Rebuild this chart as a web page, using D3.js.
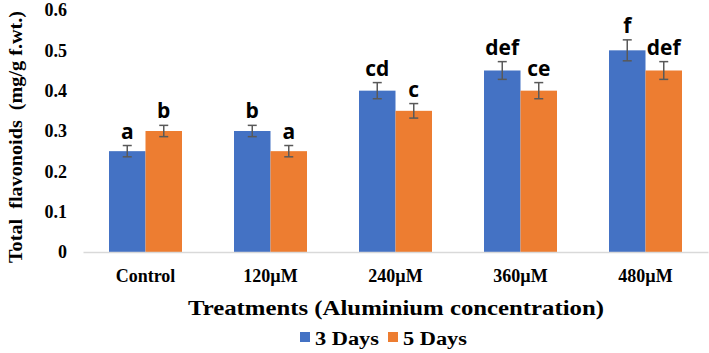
<!DOCTYPE html>
<html>
<head>
<meta charset="utf-8">
<script src="https://cdn.jsdelivr.net/npm/d3@7"></script>
<style>
  body { margin: 0; background: #fff; }
  .tick text { font-family: "Liberation Serif", "Times New Roman", serif; font-weight: bold; }
</style>
</head>
<body>
<div id="chart"></div>
<script>
var categories = ["Control", "120\u00b5M", "240\u00b5M", "360\u00b5M", "480\u00b5M"];
var seriesNames = ["3 Days", "5 Days"];
var days3 = [0.25, 0.30, 0.40, 0.45, 0.50];
var days5 = [0.30, 0.25, 0.35, 0.40, 0.45];
var err3 = [0.014, 0.014, 0.02, 0.022, 0.026];
var err5 = [0.014, 0.014, 0.018, 0.02, 0.022];
var letters3 = ["a", "b", "cd", "def", "f"];
var letters5 = ["b", "a", "c", "ce", "def"];
var yTicks = [0, 0.1, 0.2, 0.3, 0.4, 0.5, 0.6];
var colors = ["#4472C4", "#ED7D31"];

var w = 709, h = 353;

// flatten into rows for drawing
var rows = [];
categories.forEach(function(c, i) {
  rows.push({cat: c, s: seriesNames[0], v: days3[i], e: err3[i], lab: letters3[i], k: 0});
  rows.push({cat: c, s: seriesNames[1], v: days5[i], e: err5[i], lab: letters5[i], k: 1});
});

var xScale = d3.scaleBand()
  .domain(categories)
  .range([83, 708])
  .paddingInner(0.416)
  .paddingOuter(0.208);

var xInner = d3.scaleBand()
  .domain(seriesNames)
  .range([0, xScale.bandwidth()]);

var yScale = d3.scaleLinear()
  .domain([0, 0.6])
  .range([252, 10]);

var svg = d3.select("#chart")
  .append("svg")
  .attr("width", w)
  .attr("height", h);

// bars
svg.selectAll("rect.bar")
  .data(rows)
  .enter()
  .append("rect")
  .attr("class", "bar")
  .attr("x", function(d) { return xScale(d.cat) + xInner(d.s); })
  .attr("y", function(d) { return yScale(d.v); })
  .attr("width", xInner.bandwidth())
  .attr("height", function(d) { return yScale(0) - yScale(d.v); })
  .style("fill", function(d) { return colors[d.k]; });

// error bars
var eb = svg.selectAll("g.err")
  .data(rows)
  .enter()
  .append("g")
  .attr("class", "err")
  .attr("stroke", "#595959")
  .attr("stroke-width", 1.5);

function cx(d) { return xScale(d.cat) + xInner(d.s) + xInner.bandwidth() / 2; }

eb.append("line")
  .attr("x1", cx).attr("x2", cx)
  .attr("y1", function(d) { return yScale(d.v + d.e); })
  .attr("y2", function(d) { return yScale(d.v - d.e); });
eb.append("line")
  .attr("x1", function(d) { return cx(d) - 4.5; })
  .attr("x2", function(d) { return cx(d) + 4.5; })
  .attr("y1", function(d) { return yScale(d.v + d.e); })
  .attr("y2", function(d) { return yScale(d.v + d.e); });
eb.append("line")
  .attr("x1", function(d) { return cx(d) - 4.5; })
  .attr("x2", function(d) { return cx(d) + 4.5; })
  .attr("y1", function(d) { return yScale(d.v - d.e); })
  .attr("y2", function(d) { return yScale(d.v - d.e); });

// significance letters
svg.selectAll("text.sig")
  .data(rows)
  .enter()
  .append("text")
  .attr("class", "sig")
  .attr("x", cx)
  .attr("y", function(d) { return yScale(d.v + d.e) - 7; })
  .attr("text-anchor", "middle")
  .style("font-family", "'Open Sans', sans-serif")
  .style("font-weight", "bold")
  .style("font-size", "21px")
  .text(function(d) { return d.lab; });

// axes
var xAxis = d3.axisBottom(xScale).tickSize(0).tickPadding(0);
svg.append("g")
  .attr("transform", "translate(0," + yScale(0) + ")")
  .call(xAxis)
  .call(function(g) {
    g.select(".domain").attr("stroke", "#d9d9d9").attr("stroke-width", 1.5);
    g.selectAll(".tick text").attr("dy", null).attr("y", 30)
      .style("font-size", "18px").attr("fill", "#000");
  });

var yAxis = d3.axisLeft(yScale).tickValues(yTicks)
  .tickFormat(function(d) { return d === 0 ? "0" : d3.format(".1f")(d); })
  .tickSize(0).tickPadding(0);
svg.append("g")
  .attr("transform", "translate(67,0)")
  .call(yAxis)
  .call(function(g) {
    g.select(".domain").remove();
    g.selectAll(".tick text").style("font-size", "18px").attr("fill", "#000");
  });

// axis titles
svg.append("text")
  .attr("x", 396)
  .attr("y", 315)
  .attr("text-anchor", "middle")
  .attr("textLength", 416)
  .attr("lengthAdjust", "spacingAndGlyphs")
  .style("font-family", "'Liberation Serif', serif")
  .style("font-weight", "bold")
  .style("font-size", "21px")
  .text("Treatments (Aluminium concentration)");

svg.append("text")
  .attr("transform", "translate(22,137) rotate(-90)")
  .attr("text-anchor", "middle")
  .attr("textLength", 252)
  .attr("lengthAdjust", "spacingAndGlyphs")
  .style("font-family", "'Liberation Serif', serif")
  .style("font-weight", "bold")
  .style("font-size", "18px")
  .style("white-space", "pre")
  .text("Total  flavonoids  (mg/g f.wt.)");

// legend
var legX = [300, 388];
var leg = svg.selectAll("g.leg")
  .data(seriesNames)
  .enter()
  .append("g")
  .attr("class", "leg")
  .attr("transform", function(d, i) { return "translate(" + legX[i] + ",0)"; });
leg.append("rect")
  .attr("x", 0).attr("y", 332)
  .attr("width", 10).attr("height", 10)
  .style("fill", function(d, i) { return colors[i]; });
leg.append("text")
  .attr("x", 15).attr("y", 345)
  .attr("textLength", 64)
  .attr("lengthAdjust", "spacingAndGlyphs")
  .style("font-family", "'Liberation Serif', serif")
  .style("font-weight", "bold")
  .style("font-size", "18px")
  .text(function(d) { return d; });
</script>
</body>
</html>
